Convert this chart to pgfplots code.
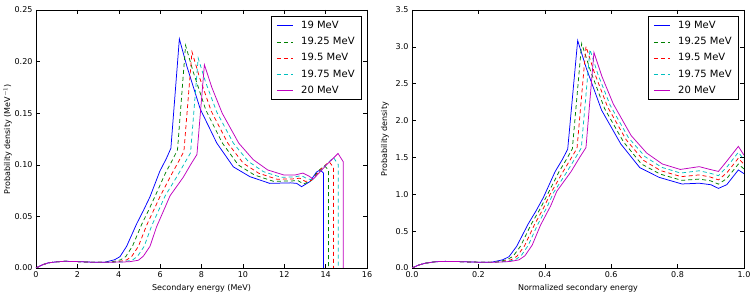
\documentclass[border=0pt]{standalone}
\usepackage{pgfplots}
\pgfplotsset{compat=1.18}
\usepackage{fontspec}
\setmainfont{DejaVu Sans}
\definecolor{mblue}{rgb}{0,0,1}
\definecolor{mgreen}{rgb}{0,0.5,0}
\definecolor{mred}{rgb}{1,0,0}
\definecolor{mcyan}{rgb}{0,0.75,0.75}
\definecolor{mmag}{rgb}{0.75,0,0.75}
\pgfplotsset{
  legend image code/.code={\draw[#1] (0pt,0pt) -- (16pt,0pt);},
}
\pgfplotsset{
  mystyle/.style={
    width=331pt,height=258pt,scale only axis,anchor=south west,
    tick align=inside,major tick length=4pt,
    axis line style={line width=0.7pt},
    every tick/.style={black,line width=0.5pt},
    tick label style={font=\fontsize{8}{9}\selectfont},
    label style={font=\fontsize{8}{9}\selectfont},
    /pgf/number format/assume math mode=true,
    legend cell align=left,
    legend style={at={(0.985,0.977)},anchor=north east,draw=black,line width=0.8pt,
      font=\fontsize{10}{12}\selectfont,row sep=3.2pt,inner xsep=5pt,inner ysep=3pt},
    clip=true,
  },
  pb/.style={mblue,line width=0.75pt},
  pg/.style={mgreen,line width=0.75pt,dash pattern=on 4pt off 3pt},
  pr/.style={mred,line width=0.75pt,dash pattern=on 4pt off 3pt},
  pc/.style={mcyan,line width=0.75pt,dash pattern=on 4pt off 3pt},
  pm/.style={mmag,line width=0.75pt},
}
\newcommand{\lgx}[1]{\hspace{6pt}#1}
\begin{document}
\begin{tikzpicture}
\path[use as bounding box] (0,0) rectangle (752pt,297pt);
% ---------------- left ----------------
\begin{axis}[mystyle,at={(36pt,29pt)},
  xmin=0,xmax=16,ymin=0,ymax=0.25,
  xtick={0,2,4,6,8,10,12,14,16},
  ytick={0,0.05,0.10,0.15,0.20,0.25},
  yticklabel style={/pgf/number format/.cd,fixed,fixed zerofill,precision=2},
  xlabel={Secondary energy (MeV)},
  ylabel={Probability density (MeV$^{-1}$)},
  ylabel shift=-4pt,
]
\addplot[pb] table {
x y
0 0
0.3 0.003
0.6 0.005
1.0 0.006
1.4 0.0065
2.0 0.0062
2.6 0.0057
3.0 0.0055
3.3 0.0055
3.8 0.008
4.06 0.011
4.38 0.021
4.87 0.043
5.2 0.056
5.51 0.069
5.99 0.094
6.3 0.106
6.52 0.116
6.93 0.222
7.3 0.195
7.94 0.154
8.74 0.121
9.54 0.098
10.34 0.0885
11.3 0.082
12.3 0.0825
12.6 0.082
12.84 0.0788
13.24 0.0837
13.56 0.093
13.73 0.095
13.9 0.092
13.9 0
};
\addlegendentry{\lgx{19 MeV}}
\addplot[pg] table {
x y
0 0
0.3 0.003
0.6 0.005
1.0 0.006
1.4 0.0065
2.0 0.0062
2.6 0.0057
3.0 0.0055
3.6 0.0056
4.09 0.0079
4.34 0.0111
4.66 0.021
5.11 0.0423
5.45 0.0563
5.75 0.0693
6.27 0.0925
6.6 0.1048
6.84 0.1145
7.23 0.2158
7.6 0.19
8.21 0.153
9.01 0.121
9.78 0.0998
10.56 0.0901
11.48 0.084
12.35 0.0844
12.68 0.0845
12.93 0.0814
13.28 0.0843
13.67 0.0945
13.95 0.099
14.14 0.0948
14.14 0
};
\addlegendentry{\lgx{19.25 MeV}}
\addplot[pr] table {
x y
0 0
0.3 0.003
0.6 0.005
1.0 0.006
1.4 0.0065
2.0 0.0062
2.6 0.0057
3.0 0.0055
3.9 0.0058
4.38 0.0078
4.63 0.0113
4.95 0.021
5.35 0.0415
5.7 0.0565
6.0 0.0695
6.56 0.091
6.9 0.1035
7.15 0.113
7.54 0.2095
7.9 0.185
8.47 0.152
9.27 0.121
10.02 0.1015
10.77 0.0918
11.65 0.086
12.4 0.0863
12.75 0.087
13.02 0.0839
13.32 0.0849
13.78 0.096
14.17 0.103
14.38 0.0975
14.38 0
};
\addlegendentry{\lgx{19.5 MeV}}
\addplot[pc] table {
x y
0 0
0.3 0.003
0.6 0.005
1.0 0.006
1.4 0.0065
2.0 0.0062
2.6 0.0057
3.0 0.0055
3.6 0.0056
4.2 0.0059
4.66 0.0076
4.91 0.0114
5.23 0.021
5.59 0.0408
5.95 0.0568
6.24 0.0698
6.84 0.0895
7.2 0.1023
7.47 0.1115
7.84 0.2033
8.2 0.18
8.74 0.151
9.54 0.121
10.26 0.1033
10.99 0.0934
11.83 0.088
12.45 0.0881
12.83 0.0895
13.11 0.0865
13.36 0.0854
13.89 0.0975
14.38 0.107
14.61 0.1003
14.61 0
};
\addlegendentry{\lgx{19.75 MeV}}
\addplot[pm] table {
x y
0 0
0.3 0.003
0.6 0.005
1.0 0.006
1.4 0.0065
2.0 0.0062
2.6 0.0057
3.0 0.0055
3.6 0.0056
4.0 0.0058
4.5 0.006
4.95 0.0075
5.19 0.0115
5.51 0.021
5.83 0.040
6.2 0.057
6.48 0.070
7.12 0.088
7.5 0.101
7.78 0.110
8.14 0.197
8.5 0.175
9.0 0.150
9.8 0.121
10.5 0.105
11.2 0.095
12.0 0.090
12.5 0.090
12.9 0.092
13.2 0.089
13.4 0.086
14.0 0.099
14.6 0.111
14.85 0.103
14.85 0
};
\addlegendentry{\lgx{20 MeV}}
\end{axis}
% ---------------- right ----------------
\begin{axis}[mystyle,at={(412pt,29pt)},width=332pt,
  xmin=0,xmax=1,ymin=0,ymax=3.5,
  xtick={0,0.2,0.4,0.6,0.8,1.0},
  ytick={0,0.5,1.0,1.5,2.0,2.5,3.0,3.5},
  xticklabel style={/pgf/number format/.cd,fixed,fixed zerofill,precision=1},
  yticklabel style={/pgf/number format/.cd,fixed,fixed zerofill,precision=1},
  xlabel={Normalized secondary energy},
  ylabel={Probability density},
]
\addplot[pb] table {
x y
0 0
0.02 0.04
0.04 0.065
0.07 0.085
0.1 0.09
0.14 0.087
0.18 0.081
0.22 0.077
0.237 0.076
0.273 0.111
0.292 0.153
0.315 0.292
0.350 0.598
0.374 0.778
0.396 0.959
0.431 1.307
0.453 1.473
0.469 1.612
0.499 3.086
0.525 2.711
0.571 2.141
0.629 1.682
0.686 1.362
0.744 1.230
0.813 1.140
0.865 1.15
0.90 1.13
0.923 1.08
0.948 1.13
0.983 1.33
1.0 1.28
};
\addlegendentry{\lgx{19 MeV}}
\addplot[pg] table {
x y
0 0
0.02 0.04
0.04 0.065
0.07 0.085
0.1 0.09
0.14 0.087
0.18 0.081
0.22 0.077
0.252 0.079
0.285 0.111
0.304 0.156
0.327 0.297
0.359 0.594
0.385 0.795
0.406 0.979
0.443 1.307
0.466 1.48
0.483 1.618
0.511 3.046
0.537 2.683
0.580 2.163
0.637 1.711
0.691 1.411
0.747 1.275
0.812 1.189
0.865 1.206
0.899 1.183
0.923 1.138
0.948 1.213
0.983 1.41
1.0 1.343
};
\addlegendentry{\lgx{19.25 MeV}}
\addplot[pr] table {
x y
0 0
0.02 0.04
0.04 0.065
0.07 0.085
0.1 0.09
0.14 0.087
0.18 0.081
0.22 0.077
0.266 0.082
0.298 0.111
0.316 0.159
0.339 0.301
0.369 0.589
0.396 0.812
0.416 1.0
0.455 1.307
0.479 1.487
0.497 1.623
0.524 3.006
0.549 2.655
0.589 2.185
0.645 1.740
0.697 1.461
0.749 1.321
0.811 1.239
0.865 1.263
0.898 1.235
0.923 1.195
0.949 1.295
0.983 1.49
1.0 1.405
};
\addlegendentry{\lgx{19.5 MeV}}
\addplot[pc] table {
x y
0 0
0.02 0.04
0.04 0.065
0.07 0.085
0.1 0.09
0.14 0.087
0.18 0.081
0.22 0.077
0.281 0.085
0.310 0.110
0.328 0.162
0.350 0.306
0.378 0.585
0.407 0.829
0.426 1.02
0.467 1.307
0.492 1.493
0.510 1.629
0.536 2.965
0.560 2.627
0.597 2.206
0.652 1.768
0.702 1.510
0.752 1.366
0.809 1.288
0.865 1.319
0.896 1.288
0.923 1.253
0.950 1.378
0.983 1.57
1.0 1.468
};
\addlegendentry{\lgx{19.75 MeV}}
\addplot[pm] table {
x y
0 0
0.02 0.04
0.04 0.065
0.07 0.085
0.1 0.09
0.14 0.087
0.18 0.081
0.22 0.077
0.26 0.08
0.295 0.088
0.322 0.110
0.340 0.165
0.362 0.310
0.387 0.580
0.418 0.846
0.436 1.040
0.479 1.307
0.505 1.500
0.524 1.634
0.548 2.925
0.572 2.599
0.606 2.228
0.660 1.797
0.707 1.559
0.754 1.411
0.808 1.337
0.865 1.375
0.895 1.34
0.923 1.31
0.950 1.46
0.983 1.65
1.0 1.53
};
\addlegendentry{\lgx{20 MeV}}
\end{axis}
\end{tikzpicture}
\end{document}
